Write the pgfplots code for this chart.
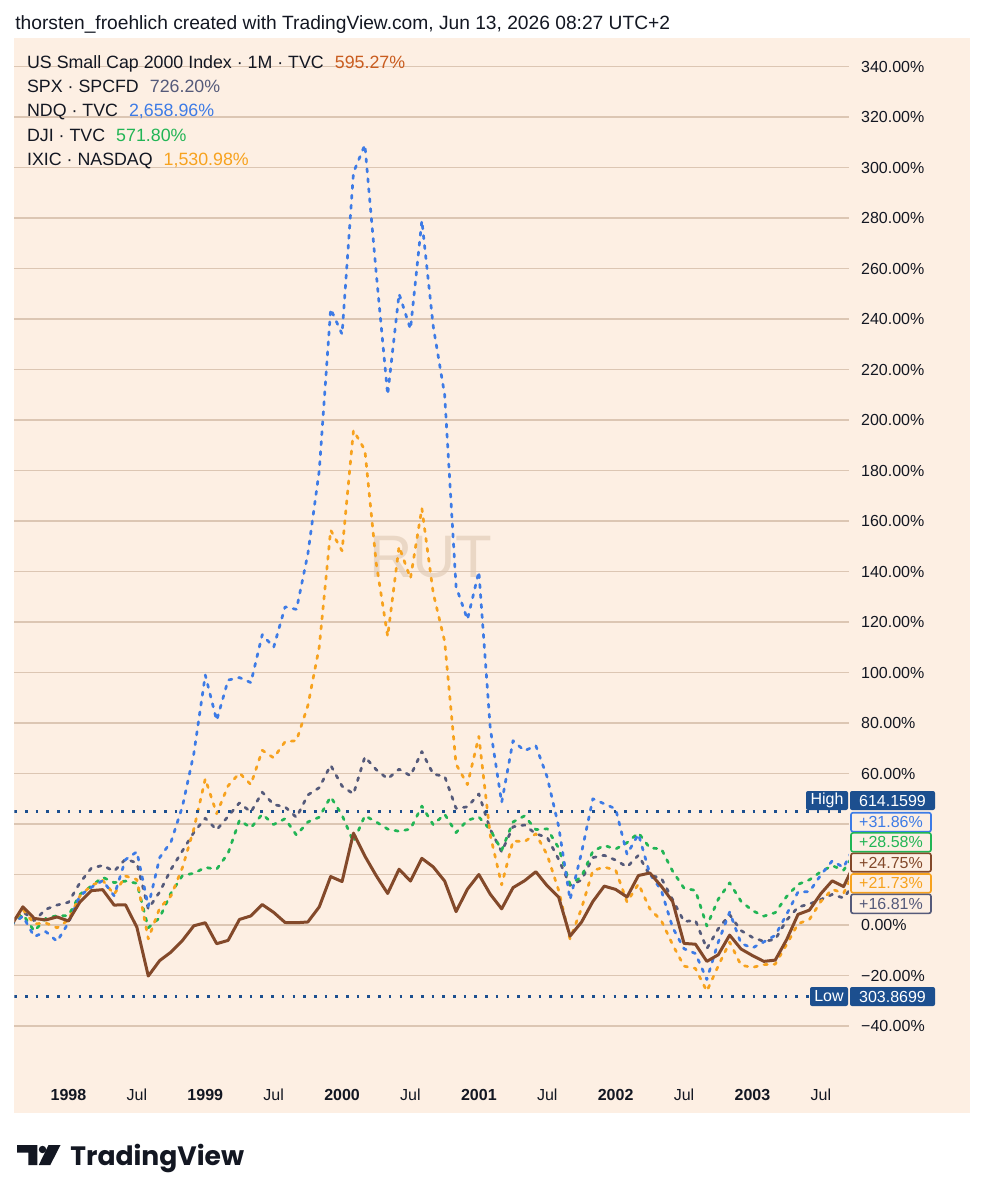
\documentclass[border=0pt]{standalone}
\usepackage{pgfplots}
\pgfplotsset{compat=1.18}
\usepackage{pgfplotstable}
\usepackage{fontspec}
\setmainfont{Liberation Sans}
\newfontfamily\tvfont{Poppins}

\definecolor{bg}{HTML}{FDEFE3}
\definecolor{gridc}{HTML}{DCC6B3}
\definecolor{rut}{HTML}{83492A}
\definecolor{rutlbl}{HTML}{C95C1F}
\definecolor{spx}{HTML}{555A7A}
\definecolor{ndq}{HTML}{3D7BE6}
\definecolor{dji}{HTML}{22B555}
\definecolor{ixic}{HTML}{F7A21E}
\definecolor{hl}{HTML}{1C4F8F}
\definecolor{txt}{HTML}{131722}
\definecolor{wm}{HTML}{EAD7C5}

\pgfplotstableread{
m rut spx ndq dji ixic
-5 0 0 0 0 0
-4 7.2 5.3 3.5 4.2 6.2
-3 2.6 1.7 -4.6 -2.4 0.4
-2 2.0 6.2 -2.6 2.6 0.8
-1 3.2 7.9 -6.5 3.7 -1.1
0 1.6 9.0 0.9 3.7 2.0
1 9.1 16.7 11.6 12.1 11.5
2 13.6 22.5 14.9 15.4 15.6
3 14.0 23.6 17.6 18.9 17.7
4 7.9 21.3 11.6 16.8 12.1
5 8.0 26.1 25.9 17.4 19.4
6 -0.9 24.6 29.0 16.5 18.0
7 -20.2 6.4 7.4 -1.1 -5.5
8 -14.1 13.1 26.7 2.9 6.7
9 -10.7 22.1 33.0 12.7 11.6
10 -6.1 29.4 47.0 19.6 22.8
11 -0.3 36.7 68.0 20.5 38.1
12 0.9 42.3 99.0 22.8 57.9
13 -7.4 37.7 81.0 22.1 44.1
14 -6.1 43.0 97.0 28.4 55.1
15 2.2 48.4 98.0 41.5 60.2
16 3.6 44.7 96.0 38.5 55.6
17 8.1 52.6 115.0 43.9 69.2
18 5.0 47.7 110.0 39.8 66.2
19 1.0 46.8 126.0 42.1 72.6
20 0.9 42.6 125.0 35.6 73.0
21 1.2 51.5 147.0 40.8 86.9
22 7.2 54.4 180.0 42.7 110.2
23 19.2 63.3 244.0 50.8 156.4
24 17.2 55.0 234.0 43.5 148.2
25 36.4 51.9 298.0 32.9 195.9
26 27.3 66.6 309.0 43.3 188.1
27 19.5 61.5 258.0 40.8 143.2
28 12.5 57.9 210.0 38.0 114.3
29 22.1 61.7 250.0 37.1 149.9
30 17.4 59.1 236.0 38.0 137.3
31 26.4 68.7 279.0 47.1 165.0
32 23.0 59.7 237.0 39.7 131.4
33 17.4 58.9 210.0 43.9 112.3
34 5.3 46.2 134.0 36.6 63.7
35 14.2 46.8 121.0 41.5 55.6
36 20.0 51.9 140.0 42.8 74.7
37 12.2 37.9 78.0 37.7 35.6
38 6.4 29.0 48.5 29.6 15.9
39 14.8 38.9 73.0 40.8 33.3
40 17.5 39.6 69.0 43.2 33.0
41 21.1 36.1 71.0 37.8 36.1
42 15.5 34.7 58.5 38.1 27.7
43 11.0 26.0 39.0 30.5 13.7
44 -4.4 15.7 10.0 16.1 -5.6
45 1.1 17.8 28.5 19.1 6.5
46 9.3 26.7 50.0 29.2 21.6
47 15.4 27.6 48.0 31.5 22.9
48 14.1 25.7 46.0 30.1 21.8
49 11.1 23.0 28.0 32.6 9.1
50 19.6 27.6 36.0 36.5 16.3
51 20.6 19.7 20.3 30.5 6.4
52 15.4 18.6 13.8 30.2 1.8
53 9.3 10.0 -1.0 21.3 -7.8
54 -7.3 1.4 -9.4 14.6 -16.3
55 -7.6 1.8 -11.3 13.7 -17.2
56 -14.4 -9.4 -21.6 -0.4 -26.2
57 -11.8 -1.5 -6.8 10.2 -16.2
58 -4.0 4.1 5.1 16.7 -6.8
59 -9.5 -2.2 -7.3 9.4 -15.9
60 -12.1 -4.9 -9.1 5.7 -16.8
61 -14.4 -6.5 -6.7 3.5 -15.7
62 -13.9 -5.7 -4.1 4.9 -15.5
63 -5.8 1.9 4.2 11.3 -7.7
64 4.2 7.1 13.1 16.1 0.5
65 5.9 8.3 13.2 17.9 2.2
66 12.4 10.1 19.8 21.1 9.3
67 17.5 12.1 25.4 23.5 14.1
68 15.2 10.7 22.8 21.7 12.6
69 24.75 16.81 31.86 28.58 21.73
}\data

\tikzset{cmp/.style={line width=1.35pt, dash pattern=on 1.6pt off 3.4pt, line cap=round, line join=round}}

\begin{document}
\begin{tikzpicture}
\begin{scope}[x=0.5pt,y=-0.5pt]
  \useasboundingbox (0,0) rectangle (984,1200);
  \fill[white] (0,0) rectangle (984,1200);
  \fill[bg] (14,38) rectangle (970,1113);
  \node[text=wm, font=\fontsize{30}{30}\selectfont, inner sep=0pt] at (431,557) {RUT};
  \node[anchor=base west, text=txt, font=\fontsize{9.6}{11}\selectfont, inner sep=0pt] at (15,29.3)
    {thorsten\_froehlich created with TradingView.com, Jun 13, 2026 08:27 UTC+2};
\end{scope}

\begin{axis}[
  at={(7.175pt,-536pt)}, anchor=south west,
  width=417.2pt, height=517pt, scale only axis,
  xmin=-4.75, xmax=68.45, ymin=-58.22, ymax=351.29,
  axis line style={draw=none},
  major tick length=0pt,
  ymajorgrids, grid style={gridc, line width=0.6pt},
  ytick={-40,-20,...,340},
  yticklabels={{−40.00\%},{−20.00\%},{0.00\%},{},{},{60.00\%},{80.00\%},{100.00\%},{120.00\%},{140.00\%},{160.00\%},{180.00\%},{200.00\%},{220.00\%},{240.00\%},{260.00\%},{280.00\%},{300.00\%},{320.00\%},{340.00\%}},
  yticklabel pos=right,
  yticklabel style={anchor=west, inner sep=0pt, xshift=6pt, font=\fontsize{8}{9}\selectfont, text=txt},
  xtick={0,6,...,66},
  xticklabels={\textbf{1998},Jul,\textbf{1999},Jul,\textbf{2000},Jul,\textbf{2001},Jul,\textbf{2002},Jul,\textbf{2003},Jul},
  xticklabel style={anchor=center, inner sep=0pt, yshift=-11.5pt, font=\fontsize{8}{9}\selectfont, text=txt},
  clip=true,
]
\addplot[spx, cmp] table[x=m, y=spx] {\data};
\addplot[dji, cmp] table[x=m, y=dji] {\data};
\addplot[ixic, cmp] table[x=m, y=ixic] {\data};
\addplot[ndq, cmp] table[x=m, y=ndq] {\data};
\addplot[rut, line width=1.5pt, line join=round] table[x=m, y=rut] {\data};
\draw[hl, line width=1.3pt, dash pattern=on 1.3pt off 4.05pt] (axis cs:-4.75,45.05) -- (axis cs:68.45,45.05);
\draw[hl, line width=1.3pt, dash pattern=on 1.3pt off 4.05pt] (axis cs:-4.75,-28.23) -- (axis cs:68.45,-28.23);
\end{axis}

\begin{scope}[x=0.5pt,y=-0.5pt]
  % legend
  \begin{scope}[every node/.style={anchor=base west, inner sep=0pt, text=txt, font=\fontsize{8.9}{10}\selectfont}]
    \node at (26.7,68.3) {US Small Cap 2000 Index · 1M · TVC\hspace{5.5pt}\textcolor{rutlbl}{595.27\%}};
    \node at (26.7,92.7) {SPX · SPCFD\hspace{5.5pt}\textcolor{spx}{726.20\%}};
    \node at (26.7,116.7) {NDQ · TVC\hspace{5.5pt}\textcolor{ndq}{2,658.96\%}};
    \node at (26.7,141) {DJI · TVC\hspace{5.5pt}\textcolor{dji}{571.80\%}};
    \node at (26.7,165.7) {IXIC · NASDAQ\hspace{5.5pt}\textcolor{ixic}{1,530.98\%}};
  \end{scope}
  % high / low boxes
  \begin{scope}[every node/.style={inner sep=0pt, font=\fontsize{8}{9}\selectfont}]
    \fill[hl, rounded corners=1pt] (806,791) rectangle (848,810);
    \node[text=white] at (827,800.5) {High};
    \fill[hl, rounded corners=1pt] (850,791) rectangle (935,810);
    \node[text=white] at (892.5,800.5) {614.1599};
    \fill[hl, rounded corners=1pt] (810,987) rectangle (848,1006);
    \node[text=white] at (829,996.5) {Low};
    \fill[hl, rounded corners=1pt] (850,987) rectangle (935,1006);
    \node[text=white] at (892.5,996.5) {303.8699};
    \filldraw[fill=bg, draw=ndq, line width=0.8pt, rounded corners=1pt] (851,812.7) rectangle (931,831.7);
    \node[text=ndq] at (891,822.2) {+31.86\%};
    \filldraw[fill=bg, draw=dji, line width=0.8pt, rounded corners=1pt] (851,832.9) rectangle (931,851.7);
    \node[text=dji] at (891,842.3) {+28.58\%};
    \filldraw[fill=bg, draw=rut, line width=0.8pt, rounded corners=1pt] (851,853.3) rectangle (931,871.7);
    \node[text=rut] at (891,862.5) {+24.75\%};
    \filldraw[fill=bg, draw=ixic, line width=0.8pt, rounded corners=1pt] (851,874) rectangle (931,892.7);
    \node[text=ixic] at (891,883.3) {+21.73\%};
    \filldraw[fill=bg, draw=spx, line width=0.8pt, rounded corners=1pt] (851,894.3) rectangle (931,913.3);
    \node[text=spx] at (891,903.8) {+16.81\%};
  \end{scope}
  % TradingView logo
  \fill[txt] (17,1145) -- (37.3,1145) -- (37.3,1165) -- (28.3,1165) -- (28.3,1152.7) -- (17,1152.7) -- cycle;
  \fill[txt] (42.5,1149.5) circle (3.7);
  \fill[txt] (48.5,1145) -- (60.5,1145) -- (50.3,1165) -- (38.8,1165) -- cycle;
  \node[anchor=base west, inner sep=0pt, text=txt, font=\tvfont\bfseries\fontsize{13.3}{15}\selectfont] at (70,1165) {TradingView};
\end{scope}
\end{tikzpicture}
\end{document}
